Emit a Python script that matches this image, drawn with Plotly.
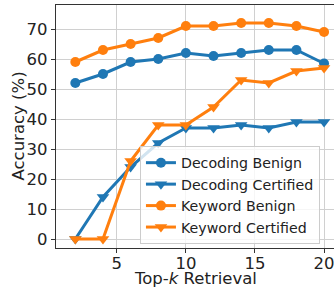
import plotly.graph_objects as go

top_k = [2, 4, 6, 8, 10, 12, 14, 16, 18, 20]
decoding_benign = [52, 55, 59, 60, 62, 61, 62, 63, 63, 58.5]
decoding_certified = [0, 14, 24, 32, 37, 37, 38, 37, 39, 39]
keyword_benign = [59, 63, 65, 67, 71, 71, 72, 72, 71, 69]
keyword_certified = [0, 0, 26, 38, 38, 44, 53, 52, 56, 57]

BLUE = "#1f77b4"
ORANGE = "#ff7f0e"
FONT = "DejaVu Sans"

fig = go.Figure()
series = [
    ("Decoding Benign", decoding_benign, BLUE, "circle", 10),
    ("Decoding Certified", decoding_certified, BLUE, "triangle-down", 11),
    ("Keyword Benign", keyword_benign, ORANGE, "circle", 10),
    ("Keyword Certified", keyword_certified, ORANGE, "triangle-down", 11),
]
for i, (name, ys, col, sym, sz) in enumerate(series):
    fig.add_trace(go.Scatter(
        x=top_k, y=ys, name=name, mode="lines+markers",
        line=dict(color=col, width=3),
        marker=dict(color=col, symbol=sym, size=sz, line=dict(width=0)),
        cliponaxis=False, legendgroup=f"g{i}",
    ))

fig.update_layout(
    width=334, height=290,
    margin=dict(l=56, r=0, t=5, b=42, autoexpand=False),
    plot_bgcolor="white", paper_bgcolor="white",
    font=dict(family=FONT, size=16, color="#222"),
    showlegend=True,
    legend=dict(
        x=0.302, y=0.42, xanchor="left", yanchor="top",
        bgcolor="rgba(255,255,255,0.8)", bordercolor="#cccccc", borderwidth=1,
        font=dict(family=FONT, size=14.2, color="#222"),
        itemwidth=30, tracegroupgap=0,
    ),
    annotations=[
        dict(text="Top-<i>k</i> Retrieval", xref="paper", yref="paper",
             x=0.5, y=0, xanchor="center", yanchor="middle", yshift=-30,
             showarrow=False, font=dict(size=16.5, family=FONT, color="#222")),
        dict(text="Accuracy (%)", xref="paper", yref="paper",
             x=0, y=0.5, xanchor="center", yanchor="middle", xshift=-38, textangle=-90,
             showarrow=False, font=dict(size=16.5, family=FONT, color="#222")),
    ],
)
fig.update_xaxes(
    range=[0.6, 20.72], tickvals=[5, 10, 15, 20], automargin=False,
    ticklabeloverflow="allow", ticklabelstandoff=-4,
    showgrid=True, gridcolor="#d0d0d0", gridwidth=1.2,
    showline=True, linecolor="#333", linewidth=1.2, mirror=True,
    ticks="outside", ticklen=4, tickcolor="#333",
    tickfont=dict(size=16.5),
    zeroline=False,
)
fig.update_yaxes(
    range=[-3, 78], tickvals=[0, 10, 20, 30, 40, 50, 60, 70], automargin=False,
    showgrid=True, gridcolor="#d0d0d0", gridwidth=1.2,
    showline=True, linecolor="#333", linewidth=1.2,
    ticks="outside", ticklen=4, tickcolor="#333",
    tickfont=dict(size=16.5),
    zeroline=False,
)

fig.write_html("out.html", config={"displayModeBar": False},
               post_script="document.body.style.margin='0';document.body.style.overflow='hidden';")
